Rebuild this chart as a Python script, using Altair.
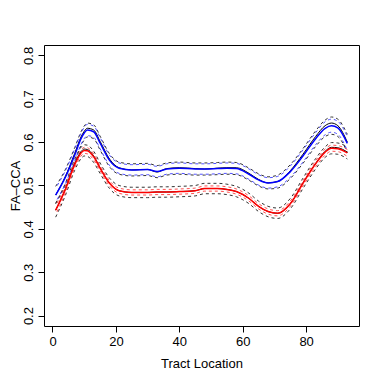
import altair as alt
import pandas as pd

# Tract locations at which values were read
locs = [1, 4, 7, 9, 10, 11, 13, 15, 18, 21, 25, 30, 33, 36, 40, 45, 48, 52, 55, 58,
        62, 65, 68, 71, 75, 79, 83, 86, 88, 90, 93]

# Blue group
blue_mean = [0.478, 0.518, 0.570, 0.608, 0.621, 0.628, 0.624, 0.598, 0.558, 0.540, 0.536,
             0.537, 0.532, 0.538, 0.540, 0.538, 0.538, 0.539, 0.540, 0.539, 0.526, 0.513,
             0.506, 0.509, 0.532, 0.568, 0.608, 0.632, 0.638, 0.633, 0.597]
blue_black = [0.478, 0.520, 0.574, 0.612, 0.625, 0.632, 0.628, 0.602, 0.561, 0.541, 0.536,
              0.537, 0.531, 0.539, 0.541, 0.539, 0.538, 0.540, 0.541, 0.541, 0.528, 0.514,
              0.506, 0.509, 0.534, 0.572, 0.613, 0.638, 0.644, 0.638, 0.600]
blue_hw_k = [0.020, 0.018, 0.017, 0.016, 0.016, 0.016, 0.016, 0.016, 0.015, 0.014, 0.014,
             0.014, 0.014, 0.014, 0.014, 0.014, 0.014, 0.014, 0.014, 0.014, 0.014, 0.014,
             0.014, 0.015, 0.016, 0.017, 0.018, 0.019, 0.020, 0.020, 0.021]
blue_hw_c = [0.016, 0.015, 0.014, 0.013, 0.013, 0.013, 0.013, 0.013, 0.012, 0.012, 0.012,
             0.012, 0.012, 0.012, 0.012, 0.012, 0.012, 0.012, 0.012, 0.012, 0.012, 0.012,
             0.012, 0.012, 0.013, 0.014, 0.014, 0.015, 0.015, 0.015, 0.016]

# Red group
red_mean = [0.443, 0.490, 0.548, 0.575, 0.581, 0.580, 0.566, 0.540, 0.505, 0.488, 0.484,
            0.484, 0.485, 0.485, 0.486, 0.488, 0.493, 0.493, 0.491, 0.486, 0.470, 0.452,
            0.440, 0.436, 0.458, 0.505, 0.550, 0.577, 0.586, 0.585, 0.575]
red_black = [0.443, 0.491, 0.550, 0.578, 0.584, 0.583, 0.568, 0.541, 0.505, 0.488, 0.484,
             0.484, 0.485, 0.485, 0.486, 0.488, 0.493, 0.493, 0.491, 0.486, 0.470, 0.452,
             0.440, 0.436, 0.458, 0.506, 0.551, 0.579, 0.588, 0.587, 0.577]
red_hw_k = [0.016, 0.014, 0.013, 0.013, 0.013, 0.013, 0.013, 0.012, 0.012, 0.012, 0.012,
            0.012, 0.012, 0.012, 0.012, 0.012, 0.012, 0.012, 0.012, 0.012, 0.012, 0.012,
            0.012, 0.012, 0.012, 0.012, 0.012, 0.012, 0.013, 0.013, 0.014]
red_hw_c = [0.010, 0.008, 0.007, 0.007, 0.007, 0.007, 0.007, 0.006, 0.006, 0.006, 0.006,
            0.006, 0.006, 0.006, 0.006, 0.006, 0.006, 0.006, 0.006, 0.006, 0.006, 0.006,
            0.006, 0.006, 0.006, 0.006, 0.007, 0.007, 0.007, 0.007, 0.008]

x_ticks = [0, 20, 40, 60, 80]
y_ticks = [0.2, 0.3, 0.4, 0.5, 0.6, 0.7, 0.8]

rows = []


def add(name, vals):
    for l, v in zip(locs, vals):
        rows.append({"loc": l, "val": v, "s": name})


add("blue_mean", blue_mean)
add("blue_black", blue_black)
add("blue_k_hi", [m + h for m, h in zip(blue_mean, blue_hw_k)])
add("blue_k_lo", [m - h for m, h in zip(blue_mean, blue_hw_k)])
add("blue_c_hi", [m + h for m, h in zip(blue_mean, blue_hw_c)])
add("blue_c_lo", [m - h for m, h in zip(blue_mean, blue_hw_c)])
add("red_mean", red_mean)
add("red_black", red_black)
add("red_k_hi", [m + h for m, h in zip(red_mean, red_hw_k)])
add("red_k_lo", [m - h for m, h in zip(red_mean, red_hw_k)])
add("red_c_hi", [m + h for m, h in zip(red_mean, red_hw_c)])
add("red_c_lo", [m - h for m, h in zip(red_mean, red_hw_c)])
df = pd.DataFrame(rows)

FONT = "Liberation Sans"
xs = alt.Scale(domain=[-2.68, 96.68], nice=False, zero=False)
ys = alt.Scale(domain=[0.176, 0.824], nice=False, zero=False)

xax = alt.Axis(values=x_ticks, title="Tract Location", grid=False, domain=False,
               tickSize=6, tickColor="black", tickWidth=1, labelColor="black",
               labelFont=FONT, labelFontSize=13, labelPadding=3, labelFlush=False,
               titleFont=FONT, titleFontSize=13, titleFontWeight="normal",
               titleColor="black", titleX=157.5, titleY=37, titleBaseline="middle",
               titleAlign="center")
yax = alt.Axis(values=y_ticks, format=".1f", title="FA\u2013CCA", grid=False, domain=False,
               tickSize=6, tickColor="black", tickWidth=1, labelColor="black",
               labelFont=FONT, labelFontSize=13, labelPadding=10, labelAngle=270,
               labelAlign="center", labelBaseline="middle", labelFlush=False,
               titleFont=FONT, titleFontSize=13, titleFontWeight="normal",
               titleColor="black", titleAngle=270, titleX=-29, titleY=140.5,
               titleAlign="center", titleBaseline="middle")

base = alt.Chart(df).encode(
    x=alt.X("loc:Q", scale=xs, axis=xax),
    y=alt.Y("val:Q", scale=ys, axis=yax),
    detail="s:N",
)


def layer(keys, color, width, dash=None, opacity=1.0, offset=0):
    kw = dict(color=color, strokeWidth=width, interpolate="monotone", opacity=opacity)
    if dash is not None:
        kw["strokeDash"] = dash
        kw["strokeDashOffset"] = offset
    return base.transform_filter(
        alt.FieldOneOfPredicate(field="s", oneOf=keys)
    ).mark_line(**kw)


layers = [
    layer(["blue_k_hi", "blue_k_lo", "red_k_hi", "red_k_lo"], "#333333", 1, [3, 3], 1.0),
    layer(["blue_c_hi", "blue_c_lo"], "#3333ff", 1, [3, 3], 0.85, 3),
    layer(["red_c_hi", "red_c_lo"], "#ff3333", 1, [3, 3], 0.85, 3),
    layer(["blue_black", "red_black"], "#000000", 1),
    layer(["blue_mean"], "#0000ff", 1.5),
    layer(["red_mean"], "#ff0000", 1.5),
]

chart = alt.layer(*layers).properties(
    width=315, height=281, autosize="none",
    padding={"left": 36, "top": 37, "right": 14, "bottom": 56},
).configure_view(stroke="black", strokeWidth=1)

chart.save("out.html", embed_options={"renderer": "svg", "actions": False})
